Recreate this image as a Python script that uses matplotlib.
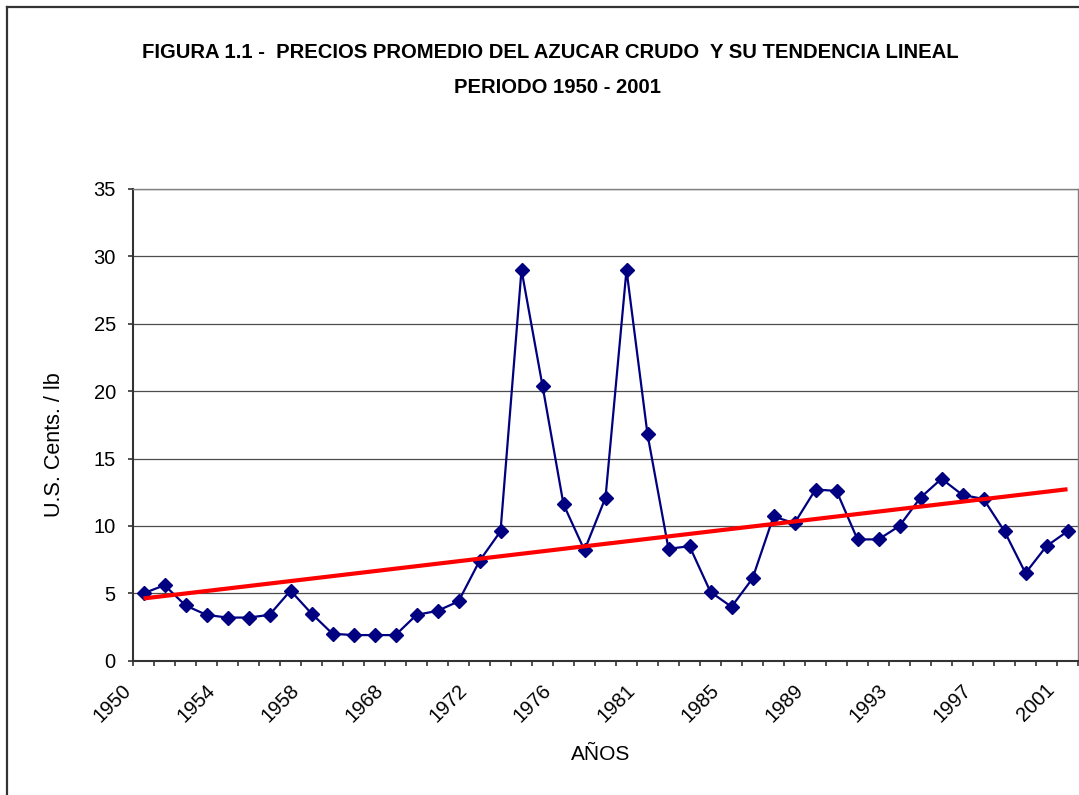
import numpy as np
import matplotlib
matplotlib.use("Agg")
import matplotlib.pyplot as plt
from matplotlib.transforms import ScaledTranslation
from matplotlib.lines import Line2D

plt.rcParams['font.family'] = ['Liberation Sans', 'DejaVu Sans']

# años (categorias del grafico, solo se rotula cada 4)
years = [1950, 1951, 1952, 1953, 1954, 1955, 1956, 1957, 1958,
         1965, 1966, 1967, 1968, 1969, 1970, 1971, 1972, 1973, 1974, 1975, 1976,
         1978, 1979, 1980, 1981, 1982, 1983, 1984, 1985, 1986, 1987, 1988, 1989,
         1990, 1991, 1992, 1993, 1994, 1995, 1996, 1997, 1998, 1999, 2000, 2001]
# precio promedio azucar crudo (U.S. cents / lb)
prices = [5.0, 5.6, 4.1, 3.4, 3.2, 3.2, 3.4, 5.2, 3.5,
          2.0, 1.9, 1.9, 1.9, 3.4, 3.7, 4.4, 7.4, 9.6, 29.0, 20.4, 11.6,
          8.2, 12.1, 29.0, 16.8, 8.3, 8.5, 5.1, 4.0, 6.1, 10.7, 10.2, 12.7,
          12.6, 9.0, 9.0, 10.0, 12.1, 13.5, 12.3, 12.0, 9.6, 6.5, 8.5, 9.6]
label_every = 4

x = np.arange(len(prices))
# tendencia lineal
coef = np.polyfit(x, prices, 1)
trend = np.polyval(coef, x)

W, H = 1079, 795
fig = plt.figure(figsize=(W / 100, H / 100), dpi=100)
ax = fig.add_axes([133 / W, 1 - 660.7 / H, (1078 - 133) / W, (660.7 - 189) / H])

ax.plot(x, prices, color='#000080', lw=1.6, marker='D', markersize=7.4,
        markerfacecolor='#000080', markeredgecolor='#000080', zorder=3)
ax.plot(x, trend, color='#ff0000', lw=3.0, solid_capstyle='butt', zorder=4)

ax.set_xlim(-0.5, len(prices) - 0.5)
ax.set_ylim(0, 35)
ax.set_yticks(np.arange(0, 36, 5))
ax.yaxis.grid(True, color='#4d4d4d', lw=0.9)
ax.set_axisbelow(True)

# rotulos cada 4 categorias, marcas entre categorias
ax.set_xticks(x[::label_every])
ax.set_xticklabels([str(y) for y in years[::label_every]])
ax.set_xticks(np.arange(-0.5, len(prices), 1), minor=True)
ax.tick_params(axis='x', which='major', length=0, pad=19, labelsize=14.5)
ax.tick_params(axis='x', which='minor', length=3.8, width=1.2, color='#333333', direction='out')
ax.tick_params(axis='y', length=3.8, width=1.2, color='#333333', pad=8.6, labelsize=14.5)
plt.setp(ax.get_xticklabels(), rotation=45, ha='right', va='center', rotation_mode='anchor')
off = ScaledTranslation(-15.5 / 100, 0, fig.dpi_scale_trans)
for lab in ax.get_xticklabels():
    lab.set_transform(lab.get_transform() + off)

for s in ['left', 'bottom']:
    ax.spines[s].set_color('#333333')
    ax.spines[s].set_linewidth(1.5)
for s in ['top', 'right']:
    ax.spines[s].set_color('#808080')
    ax.spines[s].set_linewidth(1.0)

fig.text(550 / W, 1 - 52.5 / H, 'FIGURA 1.1 -  PRECIOS PROMEDIO DEL AZUCAR CRUDO  Y SU TENDENCIA LINEAL',
         ha='center', va='center', fontsize=14.6, fontweight='bold')
fig.text(558 / W, 1 - 87.5 / H, 'PERIODO 1950 - 2001',
         ha='center', va='center', fontsize=14.6, fontweight='bold')
fig.text(55 / W, 1 - 445 / H, 'U.S. Cents. / lb', rotation=90,
         ha='center', va='center', fontsize=15.5)
fig.text(601 / W, 1 - 755 / H, 'AÑOS', ha='center', va='center', fontsize=15)

# borde exterior del grafico
fig.add_artist(Line2D([7 / W, 7 / W], [0, 1 - 7 / H], color='#333333', lw=1.6))
fig.add_artist(Line2D([7 / W, 1], [1 - 7 / H, 1 - 7 / H], color='#333333', lw=1.6))

fig.savefig('out.png', dpi=100)
